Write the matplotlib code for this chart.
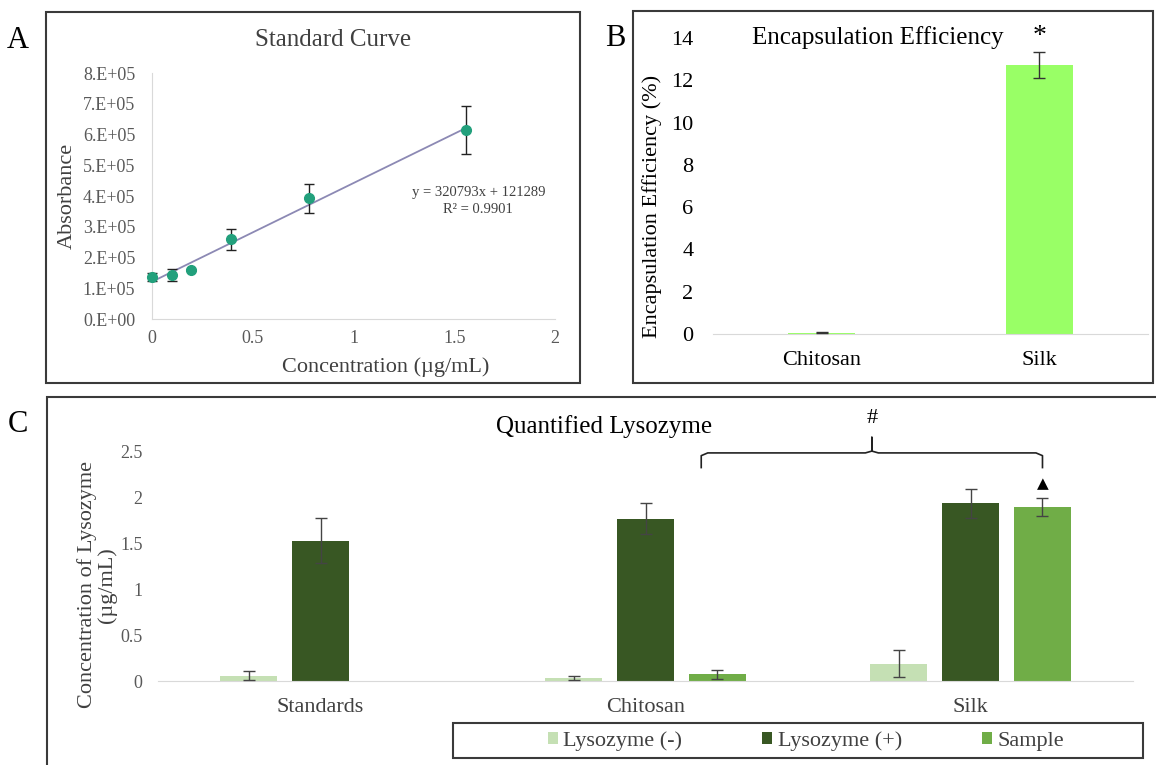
import matplotlib
matplotlib.use("Agg")
import matplotlib.pyplot as plt
import numpy as np
from matplotlib.patches import Rectangle
from matplotlib.lines import Line2D
from matplotlib.ticker import FuncFormatter

plt.rcParams['font.family'] = ['Liberation Serif', 'DejaVu Serif']

W, H = 1156, 765
DPI = 100

# ---------------- Data ----------------
# Panel A: standard curve
std_conc = [0.0, 0.0975, 0.195, 0.39, 0.78, 1.56]
std_abs = [1.37e5, 1.42e5, 1.58e5, 2.59e5, 3.93e5, 6.16e5]
std_err = [0.12e5, 0.2e5, 0.03e5, 0.33e5, 0.47e5, 0.78e5]
fit_slope = 320793
fit_icpt = 121289
fit_r2 = 0.9901

# Panel B: encapsulation efficiency
ee_groups = ["Chitosan", "Silk"]
ee_values = [0.06, 12.72]
ee_err = [0.02, 0.62]

# Panel C: quantified lysozyme
lq_groups = ["Standards", "Chitosan", "Silk"]
lq_series = ["Lysozyme (-)", "Lysozyme (+)", "Sample"]
lys_neg = [0.06, 0.03, 0.19]
lys_neg_err = [0.045, 0.02, 0.145]
lys_pos = [1.53, 1.77, 1.94]
lys_pos_err = [0.245, 0.17, 0.16]
sample = [np.nan, 0.075, 1.90]
sample_err = [np.nan, 0.05, 0.095]

GRAY = "#595959"
AXLINE = "#d9d9d9"

fig = plt.figure(figsize=(W / DPI, H / DPI), dpi=DPI)


def fx(x):
    return x / W


def fy(y):
    return 1 - y / H


def axes_px(left, top, right, bottom):
    return fig.add_axes([fx(left), fy(bottom), (right - left) / W, (bottom - top) / H])


def box_px(left, top, right, bottom):
    fig.patches.append(Rectangle((fx(left), fy(bottom)), (right - left) / W, (bottom - top) / H,
                                 transform=fig.transFigure, fill=False, edgecolor="#3a3a3a",
                                 linewidth=1.5, clip_on=False))


# Panel boxes
box_px(46, 12, 580, 383)
box_px(633, 11, 1153, 383)
box_px(47, 397, 1160, 770)

fig.text(fx(18), fy(40), "A", fontsize=22, ha="center", va="center")
fig.text(fx(615), fy(38), "B", fontsize=22, ha="center", va="center")
fig.text(fx(18), fy(425), "C", fontsize=22, ha="center", va="center")

# ---------------- Panel A ----------------
axA = axes_px(152, 73, 555, 319)
xfit = np.array([std_conc[0], std_conc[-1]])
axA.plot(xfit, fit_slope * xfit + fit_icpt, color="#8c89b4", lw=1.3, zorder=2)
ebA = axA.errorbar(std_conc, std_abs, yerr=std_err, fmt="o", color="#22a07c", ms=7,
                   ecolor="#222222", elinewidth=1.0, capsize=3.5, capthick=1.0, zorder=3)
for art in ebA.get_children():
    art.set_clip_on(False)
axA.set_xlim(0, 2)
axA.set_ylim(0, 8e5)
axA.set_xticks([0, 0.5, 1, 1.5, 2])
axA.set_xticklabels(["0", "0.5", "1", "1.5", "2"])
axA.set_yticks(np.arange(0, 8.01e5, 1e5))
axA.yaxis.set_major_formatter(FuncFormatter(lambda v, p: f"{v:.0E}".replace("E", ".E")))
for s in ["top", "right"]:
    axA.spines[s].set_visible(False)
for s in ["left", "bottom"]:
    axA.spines[s].set_color(AXLINE)
axA.tick_params(length=0, labelsize=13, colors=GRAY, pad=12)
axA.tick_params(axis="x", pad=8)
axA.text(0.45, 1.135, "Standard Curve", transform=axA.transAxes, fontsize=18,
         color="#404040", ha="center", va="center")
axA.set_ylabel("Absorbance", fontsize=16, color="#404040", labelpad=4)
axA.text(0.58, -0.195, "Concentration (µg/mL)", transform=axA.transAxes, fontsize=16,
         color="#404040", ha="center", va="center")
axA.text(1.62, 4.1e5, f"y = {fit_slope}x + {fit_icpt}", fontsize=10.5, color="#404040",
         ha="center", va="center")
axA.text(1.62, 3.55e5, f"R² = {fit_r2}", fontsize=10.5, color="#404040",
         ha="center", va="center")

# ---------------- Panel B ----------------
axB = axes_px(713, 38, 1148, 334)
xb = np.arange(len(ee_groups))
axB.bar(xb, ee_values, width=0.31, color="#99ff66", zorder=2)
axB.errorbar(xb, ee_values, yerr=ee_err, fmt="none", ecolor="#333333", elinewidth=1.0,
             capsize=4, capthick=1.0, zorder=3)
axB.set_xlim(-0.5, 1.5)
axB.set_ylim(0, 14)
axB.set_xticks(xb)
axB.set_xticklabels(ee_groups)
axB.set_yticks(np.arange(0, 14.1, 2))
for s in ["top", "right", "left"]:
    axB.spines[s].set_visible(False)
axB.spines["bottom"].set_color(AXLINE)
axB.tick_params(length=0, labelsize=16, colors="black")
axB.tick_params(axis="y", pad=14)
axB.tick_params(axis="x", pad=12)
axB.set_ylabel("Encapsulation Efficiency (%)", fontsize=16, labelpad=6)
axB.yaxis.set_label_coords(-0.118, 0.43)
axB.text(0.38, 1.0, "Encapsulation Efficiency", transform=axB.transAxes, fontsize=18,
         ha="center", va="center")
axB.text(xb[1], ee_values[1] + ee_err[1] + 0.75, "*", fontsize=20, ha="center", va="center")

# ---------------- Panel C ----------------
axC = axes_px(158, 452, 1133, 681)
xc = np.arange(len(lq_groups))
off = 0.2215
bw = 0.175
colors = ["#c5e0b4", "#385723", "#70ad47"]
vals = [lys_neg, lys_pos, sample]
errs = [lys_neg_err, lys_pos_err, sample_err]
for i, (v, e, c, lab) in enumerate(zip(vals, errs, colors, lq_series)):
    pos = xc + (i - 1) * off
    axC.bar(pos, v, width=bw, color=c, label=lab, zorder=2)
    axC.errorbar(pos, v, yerr=e, fmt="none", ecolor="#444444", elinewidth=1.0,
                 capsize=4, capthick=1.0, zorder=3)
axC.set_xlim(-0.5, 2.5)
axC.set_ylim(0, 2.5)
axC.set_xticks(xc)
axC.set_xticklabels(lq_groups)
axC.set_yticks(np.arange(0, 2.51, 0.5))
axC.yaxis.set_major_formatter(FuncFormatter(lambda v, p: f"{v:g}"))
for s in ["top", "right", "left"]:
    axC.spines[s].set_visible(False)
axC.spines["bottom"].set_color(AXLINE)
axC.tick_params(length=0, colors=GRAY)
axC.tick_params(axis="y", labelsize=13, pad=11)
axC.tick_params(axis="x", labelsize=16, pad=12, labelcolor="#404040")
axC.set_ylabel("Concentration of Lysozyme\n(µg/mL)", fontsize=16, color="#404040",
               linespacing=1.0)
axC.yaxis.set_label_coords(-0.042, 0.42)
axC.text(0.458, 1.11, "Quantified Lysozyme", transform=axC.transAxes, fontsize=18,
         ha="center", va="center")

# significance bracket
xl = xc[1] + off - 0.05
xr = xc[2] + off
xm = (xl + xr) / 2
yb, yt, yp = 2.33, 2.49, 2.66
bx = [xl, xl, xl + 0.02, xm - 0.02, xm, xm, xm, xm + 0.02, xr - 0.02, xr, xr]
by = [yb, yt - 0.03, yt, yt, yt + 0.02, yp, yt + 0.02, yt, yt, yt - 0.03, yb]
axC.add_line(Line2D(bx, by, color="#222222", lw=1.2, clip_on=False))
axC.text(xm, 2.87, "#", fontsize=16, ha="center", va="center")
axC.text(xr, sample[2] + sample_err[2] + 0.16, "▲", fontsize=11, ha="center", va="center",
         family="DejaVu Sans")

# legend
box_px(453, 723, 1143, 758)
leg = axC.legend(loc="center", bbox_to_anchor=(fx(806), fy(741)), bbox_transform=fig.transFigure,
                 ncol=3, frameon=False, fontsize=16, handlelength=0.45, handleheight=0.45,
                 handletextpad=0.25, columnspacing=3.6, borderpad=0.2)
for t in leg.get_texts():
    t.set_color("#404040")

fig.savefig("out.png", dpi=DPI)
